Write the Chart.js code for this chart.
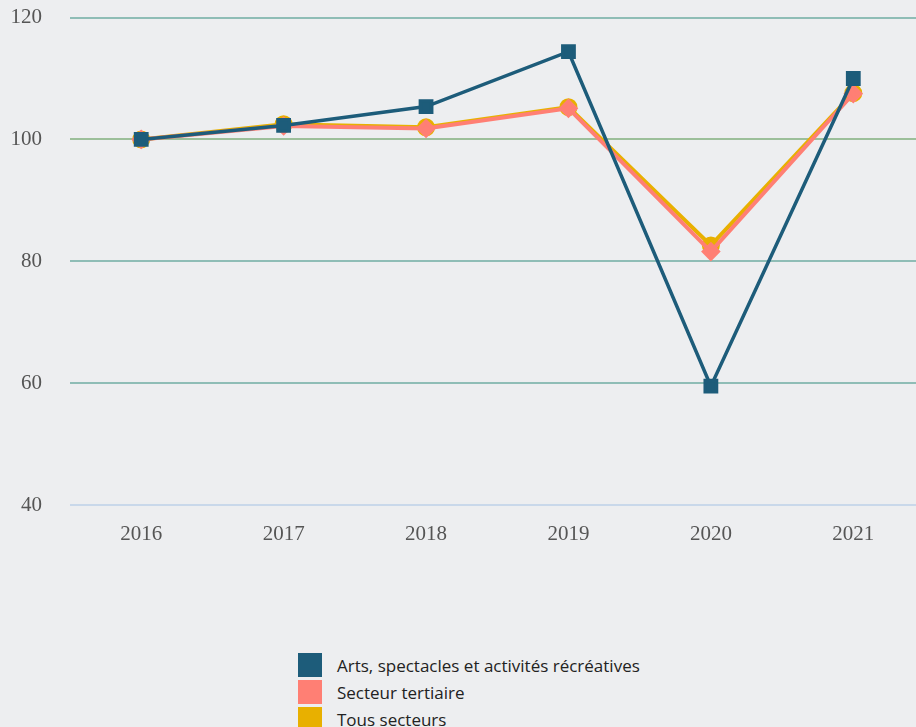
<!DOCTYPE html>
<html>
<head>
<meta charset="utf-8">
<script src="https://cdn.jsdelivr.net/npm/chart.js@4.4.1/dist/chart.umd.min.js"></script>
<style>
  html, body { margin:0; padding:0; background:#edeef0; overflow:hidden; width:916px; height:727px; }
  #wrap { position:absolute; left:-1px; top:-23px; width:937px; height:583px; }
  #legend { position:absolute; left:298px; top:653px; font-family:"Open Sans", sans-serif; font-size:17px; color:#222; }
  .item { display:flex; align-items:center; height:24px; margin-bottom:3px; }
  .box { width:24px; height:24px; margin-right:15px; }
</style>
</head>
<body>
<div id="wrap"><canvas id="c"></canvas></div>
<div id="legend"></div>
<script>
const categories = ["2016", "2017", "2018", "2019", "2020", "2021"];
const arts = [100, 102.3, 105.4, 114.4, 59.5, 110.0];
const tertiaire = [100, 102.2, 101.8, 105.1, 81.6, 107.5];
const tous = [100, 102.5, 102.0, 105.3, 82.6, 107.6];
const seriesNames = ["Arts, spectacles et activités récréatives", "Secteur tertiaire", "Tous secteurs"];
const seriesColors = ["#1d5c7a", "#ff7f74", "#e8b000"];
const yTicks = [40, 60, 80, 100, 120];

const gridColors = { 40: "#c9d8ea", 60: "#8fbdb6", 80: "#8fbdb6", 100: "#9cbf9a", 120: "#8fbdb6" };

const datasets = [
  { label: seriesNames[0], data: arts, borderColor: seriesColors[0], backgroundColor: seriesColors[0],
    borderWidth: 3.5, pointStyle: 'rect', pointRadius: 8, pointHoverRadius: 8, order: 1 },
  { label: seriesNames[1], data: tertiaire, borderColor: seriesColors[1], backgroundColor: seriesColors[1],
    borderWidth: 4, pointStyle: 'rectRot', pointRadius: 7, pointHoverRadius: 7, order: 2 },
  { label: seriesNames[2], data: tous, borderColor: seriesColors[2], backgroundColor: seriesColors[2],
    borderWidth: 4, pointStyle: 'circle', pointRadius: 7, pointHoverRadius: 7, order: 3 }
];

new Chart(document.getElementById('c'), {
  type: 'line',
  data: { labels: categories, datasets },
  options: {
    responsive: true,
    maintainAspectRatio: false,
    animation: false,
    layout: { padding: { top: 0, right: 0, bottom: 0, left: 0 } },
    plugins: { legend: { display: false }, tooltip: { enabled: false } },
    elements: { line: { tension: 0 } },
    scales: {
      x: {
        offset: true,
        grid: { display: false, drawTicks: false },
        border: { display: false },
        ticks: { color: "#555", font: { family: "Liberation Serif", size: 21 }, padding: 17 },
        afterFit: s => { s.height = 55; }
      },
      y: {
        min: 40, max: 120,
        afterBuildTicks: s => { s.ticks = yTicks.map(v => ({ value: v })); },
        grid: { drawTicks: false, lineWidth: 2, color: ctx => gridColors[ctx.tick ? ctx.tick.value : 40] || "#8fbdb6" },
        border: { display: false },
        ticks: { color: "#555", font: { family: "Liberation Serif", size: 21 }, padding: 28 },
        afterFit: s => { s.width = 71; }
      }
    }
  }
});

const leg = document.getElementById('legend');
seriesNames.forEach((n, i) => {
  const d = document.createElement('div'); d.className = 'item';
  const b = document.createElement('div'); b.className = 'box'; b.style.background = seriesColors[i];
  const t = document.createElement('span'); t.textContent = n;
  d.appendChild(b); d.appendChild(t); leg.appendChild(d);
});
</script>
</body>
</html>
